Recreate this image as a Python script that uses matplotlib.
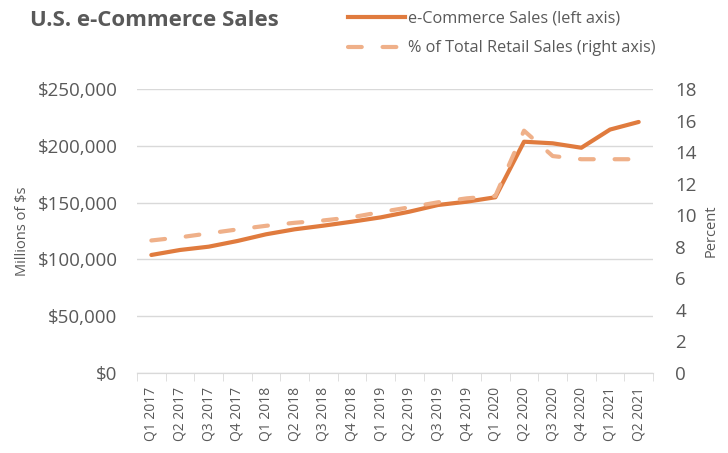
import numpy as np
import matplotlib
matplotlib.use('Agg')
import matplotlib.pyplot as plt
from matplotlib.lines import Line2D
from matplotlib.ticker import FuncFormatter

plt.rcParams['font.family'] = ['Open Sans', 'DejaVu Sans']

# data
quarters = ['Q1 2017', 'Q2 2017', 'Q3 2017', 'Q4 2017',
            'Q1 2018', 'Q2 2018', 'Q3 2018', 'Q4 2018',
            'Q1 2019', 'Q2 2019', 'Q3 2019', 'Q4 2019',
            'Q1 2020', 'Q2 2020', 'Q3 2020', 'Q4 2020',
            'Q1 2021', 'Q2 2021']
sales = [103900, 108300, 111200, 116200, 122100, 126500, 129700, 133200,
         137000, 142000, 147900, 150800, 154700, 203600, 202200, 198300,
         214300, 221000]
pct_retail = [8.4, 8.6, 8.85, 9.1, 9.33, 9.52, 9.67, 9.87, 10.2, 10.5,
              10.82, 11.07, 11.22, 15.36, 13.75, 13.55, 13.55, 13.55]

left_ticks = [0, 50000, 100000, 150000, 200000, 250000]
right_ticks = [0, 2, 4, 6, 8, 10, 12, 14, 16, 18]

SOLID = '#E07B3E'
DASHED = '#EFB089'
GRID = '#D9D9D9'
TEXT = '#595959'

fig = plt.figure(figsize=(7.28, 4.53), dpi=100)
ax = fig.add_axes([0.1882, 0.1766, 0.7088, 0.6269])
ax2 = ax.twinx()

x = np.arange(len(quarters))

ax.plot(x, sales, color=SOLID, lw=3.0, solid_capstyle='round',
        solid_joinstyle='round', zorder=3)
ax2.plot(x, pct_retail, color=DASHED, lw=3.0, linestyle=(0, (3.3, 5.0)),
         dash_capstyle='round', zorder=2)

ax.set_xlim(-0.5, len(quarters) - 0.5)
ax.set_ylim(0, 250000)
ax2.set_ylim(0, 18)

ax.set_yticks(left_ticks)
ax.yaxis.set_major_formatter(FuncFormatter(lambda v, p: '${:,.0f}'.format(v)))
ax2.set_yticks(right_ticks)

ax.set_xticks(x)
ax.set_xticklabels(quarters, rotation=90, fontsize=10, color=TEXT)
ax.set_xticks(np.arange(-0.5, len(quarters)), minor=True)
ax.tick_params(axis='x', which='major', length=0, pad=10)
ax.tick_params(axis='x', which='minor', length=6, color=GRID, direction='out')

ax.tick_params(axis='y', length=0, labelsize=13.5, labelcolor=TEXT, pad=14)
ax2.tick_params(axis='y', length=0, labelsize=13.5, labelcolor=TEXT, pad=16)

ax.grid(axis='y', color=GRID, lw=1.0)
ax.set_axisbelow(True)

for a in (ax, ax2):
    for s in ('top', 'left', 'right'):
        a.spines[s].set_visible(False)
    a.spines['bottom'].set_color(GRID)

ax.set_ylabel('Millions of $s', fontsize=10.5, color=TEXT)
ax.yaxis.set_label_coords(-0.208, 0.5)
ax2.set_ylabel('Percent', fontsize=10.5, color=TEXT)
ax2.yaxis.set_label_coords(1.098, 0.5)

fig.text(0.041, 0.955, 'U.S. e-Commerce Sales', fontsize=16, fontweight='bold',
         color=TEXT, va='center', ha='left')

handles = [Line2D([], [], color=SOLID, lw=3.0),
           Line2D([], [], color=DASHED, lw=3.0, linestyle=(0, (3.3, 5.0)),
                  dash_capstyle='round')]
labels = ['e-Commerce Sales (left axis)', '% of Total Retail Sales (right axis)']
fig.legend(handles, labels, loc='upper left', bbox_to_anchor=(0.463, 1.0),
           frameon=False, fontsize=11.7, labelcolor=TEXT, handlelength=3.5,
           handletextpad=0.2, labelspacing=0.85, borderaxespad=0.25)

fig.savefig('out.png', dpi=100)
